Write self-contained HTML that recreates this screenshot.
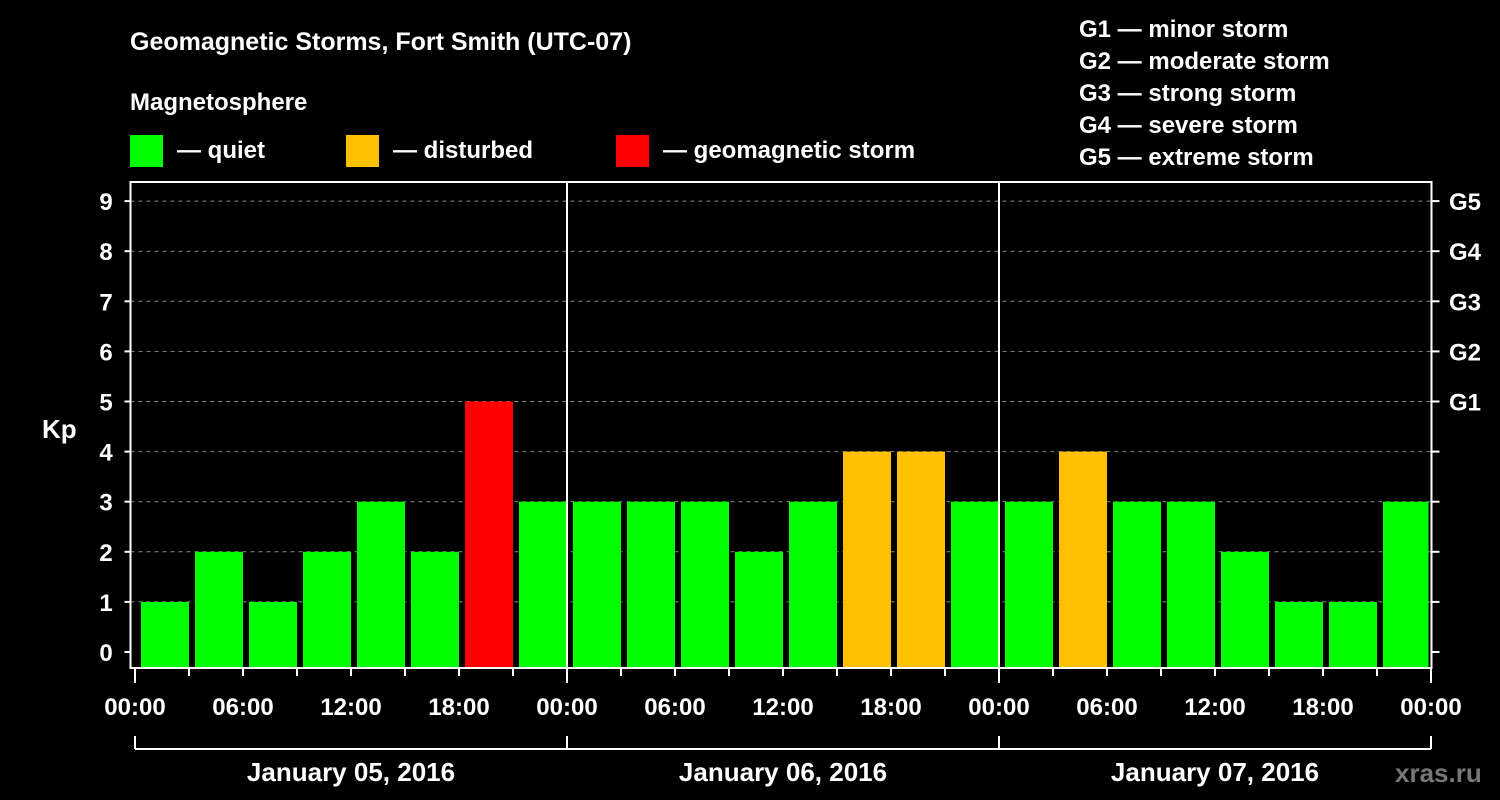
<!DOCTYPE html>
<html><head><meta charset="utf-8"><style>
html,body{margin:0;padding:0;background:#000;width:1500px;height:800px;overflow:hidden}
svg text{font-family:"Liberation Sans",Arial,sans-serif;font-weight:bold;fill:#fff}
</style></head><body>
<svg id="chart" width="1500" height="800" viewBox="0 0 1500 800">
<text x="130" y="50" font-size="25">Geomagnetic Storms, Fort Smith (UTC-07)</text>
<text x="130" y="110" font-size="24">Magnetosphere</text>
<g><rect x="130" y="135" width="33" height="32" fill="#00ff00"/><text x="177" y="158" font-size="24">— quiet</text></g>
<g><rect x="346" y="135" width="33" height="32" fill="#ffc000"/><text x="393" y="158" font-size="24">— disturbed</text></g>
<g><rect x="616" y="135" width="33" height="32" fill="#ff0000"/><text x="663" y="158" font-size="24">— geomagnetic storm</text></g>
<g font-size="24">
<text x="1079" y="37">G1 — minor storm</text>
<text x="1079" y="69">G2 — moderate storm</text>
<text x="1079" y="101">G3 — strong storm</text>
<text x="1079" y="133">G4 — severe storm</text>
<text x="1079" y="165">G5 — extreme storm</text>
</g>
<text x="42" y="438" font-size="26">Kp</text>
<text x="1395" y="782" font-size="26" fill="#777" style="fill:#777">xras.ru</text>
<g id="grid"></g><g id="bars"></g><g id="axes"></g>
</svg>
<script>
const values=[1,2,1,2,3,2,5,3,3,3,3,2,3,4,4,3,3,4,3,3,2,1,1,3,2];
const yTicks=[0,1,2,3,4,5,6,7,8,9];
const gLabels=["G1","G2","G3","G4","G5"];
const xLabels=["00:00","06:00","12:00","18:00","00:00","06:00","12:00","18:00","00:00","06:00","12:00","18:00","00:00"];
const dayLabels=["January 05, 2016","January 06, 2016","January 07, 2016"];
const NS="http://www.w3.org/2000/svg";
const L=130.5,R=1431.5,T=182,B=668,X0=135,X1=1431;
const hoursTotal=72;
const xs=h=>X0+(X1-X0)*h/hoursTotal;
const ys=v=>652-50.1*v;
function mk(tag,attrs,parent){const e=document.createElementNS(NS,tag);for(const k in attrs)e.setAttribute(k,attrs[k]);parent.appendChild(e);return e;}
const grid=document.getElementById('grid'),bars=document.getElementById('bars'),axes=document.getElementById('axes');
yTicks.forEach(v=>{if(v>0){const g=mk('line',{x1:L,x2:R,y1:ys(v),y2:ys(v),stroke:'#888','stroke-dasharray':'4,4','stroke-width':1},grid);

}});
values.forEach((v,i)=>{const c=xs(1.5+3*i+0.1667);let x0=Math.max(c-24,L+6),x1=Math.min(c+24,R-3);
const col=v>=5?'#ff0000':(v===4?'#ffc000':'#00ff00');
const r=mk('rect',{x:x0,y:ys(v),width:x1-x0,height:B-ys(v),fill:col},bars);

});
// day separators
[24,48].forEach(h=>{const l=mk('line',{x1:xs(h),x2:xs(h),y1:T,y2:B,stroke:'#fff','stroke-width':2},axes);

});
const frame=mk('rect',{x:L,y:T,width:R-L,height:B-T,fill:'none',stroke:'#fff','stroke-width':2},axes);


yTicks.forEach(v=>{mk('line',{x1:L-6,x2:L,y1:ys(v),y2:ys(v),stroke:'#fff','stroke-width':2},axes);
mk('line',{x1:R,x2:R+8,y1:ys(v),y2:ys(v),stroke:'#fff','stroke-width':2},axes);
const t=mk('text',{x:106,y:ys(v)+9,'font-size':24,'text-anchor':'middle'},axes);t.textContent=v;

});
gLabels.forEach((g,i)=>{const t=mk('text',{x:1449,y:ys(5+i)+9,'font-size':24},axes);t.textContent=g;

});
for(let h=0;h<=72;h+=3){const big=h%24===0;mk('line',{x1:xs(h),x2:xs(h),y1:B,y2:B+(big?15:8),stroke:'#fff','stroke-width':2},axes);}
xLabels.forEach((s,i)=>{const t=mk('text',{x:xs(i*6),y:715,'font-size':24,'text-anchor':'middle'},axes);t.textContent=s;

});
mk('line',{x1:X0,x2:X1,y1:749,y2:749,stroke:'#fff','stroke-width':2},axes);
[0,24,48,72].forEach(h=>mk('line',{x1:xs(h),x2:xs(h),y1:736,y2:749,stroke:'#fff','stroke-width':2},axes));
dayLabels.forEach((s,i)=>{const t=mk('text',{x:xs(i*24+12),y:781,'font-size':26,'text-anchor':'middle'},axes);t.textContent=s;

});
</script>
</body></html>
